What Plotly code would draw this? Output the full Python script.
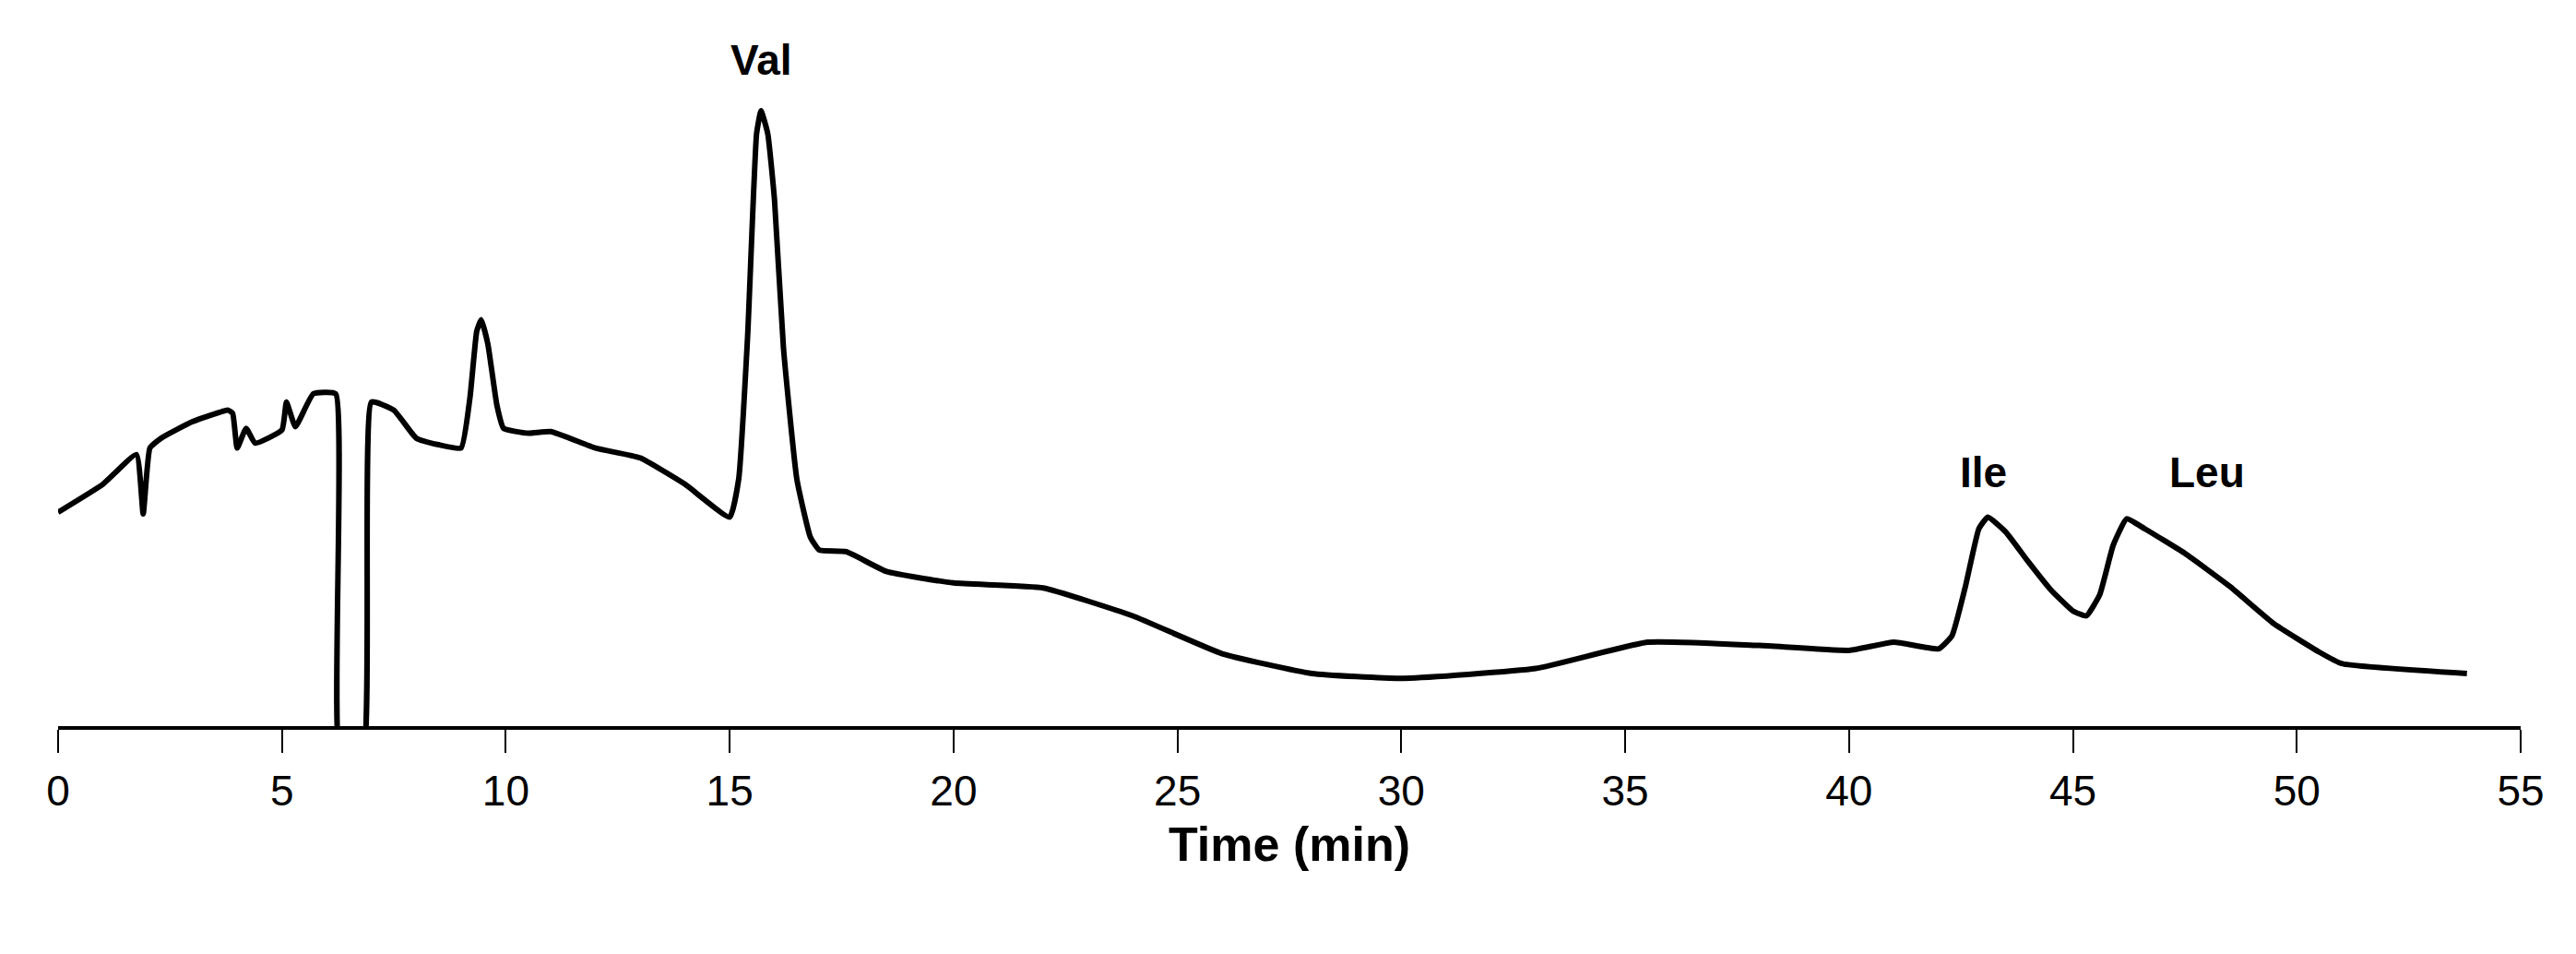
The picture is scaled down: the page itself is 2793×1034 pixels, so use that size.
import plotly.graph_objects as go

time = [0, 1, 1.75, 1.9, 2.05, 2.3, 3, 3.8, 3.9, 4.0, 4.2, 4.4, 5.0, 5.1, 5.3, 5.7, 6.2, 6.3, 6.8, 7.0, 7.5, 8.0, 8.5, 9.0, 9.2, 9.35, 9.45, 9.6, 9.8, 9.95, 10.5, 11, 12, 13, 14, 15, 15.2, 15.4, 15.6, 15.7, 15.85, 16.0, 16.2, 16.5, 16.8, 17.0, 17.6, 18.5, 20, 22, 24, 26, 28, 30, 33, 35.5, 38, 40, 41, 42, 42.3, 42.6, 42.9, 43.1, 43.5, 44, 44.5, 45, 45.3, 45.6, 45.9, 46.2, 46.6, 47.5, 48.5, 49.5, 50.5, 51, 53.8]
signal = [130, 147, 165, 129, 169, 175, 185, 192, 190, 169, 181, 172, 180, 197, 182, 202, 202, -20, -20, 197, 192, 175, 171, 169, 200, 240, 247, 232, 195, 181, 178, 179, 169, 163, 147, 127, 150, 237, 360, 374, 360, 320, 230, 150, 115, 107, 106, 94, 87, 84, 67, 44, 32, 29, 35, 51, 49, 46, 51, 47, 55, 85, 120, 127, 118, 100, 83, 70, 67, 80, 110, 126, 120, 105, 85, 62, 45, 38, 32]
peak_names = ["Val", "Ile", "Leu"]
peak_time = [15.7, 43.0, 48.0]
peak_label_y = [405, 154, 154]

fig = go.Figure()
fig.add_trace(go.Scatter(x=time, y=signal, mode="lines", line=dict(color="black", width=6, shape="spline", smoothing=0.4), showlegend=False))
for n, t, v in zip(peak_names, peak_time, peak_label_y):
    fig.add_annotation(x=t, y=v, text="<b>%s</b>" % n, showarrow=False,
                       font=dict(size=46, color="black"))
fig.update_layout(
    width=2793, height=1034, plot_bgcolor="white", paper_bgcolor="white",
    margin=dict(l=55, r=68, t=30, b=255),
    font=dict(family="Liberation Sans, Arial, sans-serif", color="black"),
    xaxis=dict(range=[0, 55], tickvals=list(range(0, 56, 5)), ticks="outside", ticklen=25, tickwidth=2,
               tickcolor="black", showline=True, linecolor="black", linewidth=4, showgrid=False,
               zeroline=False, tickfont=dict(size=46), ticklabelstandoff=2,
               title=dict(text="<b>Time (min)</b>", font=dict(size=52), standoff=15)),
    yaxis=dict(range=[0, 420], visible=False, showgrid=False, zeroline=False),
)
fig.write_html("out.html")
